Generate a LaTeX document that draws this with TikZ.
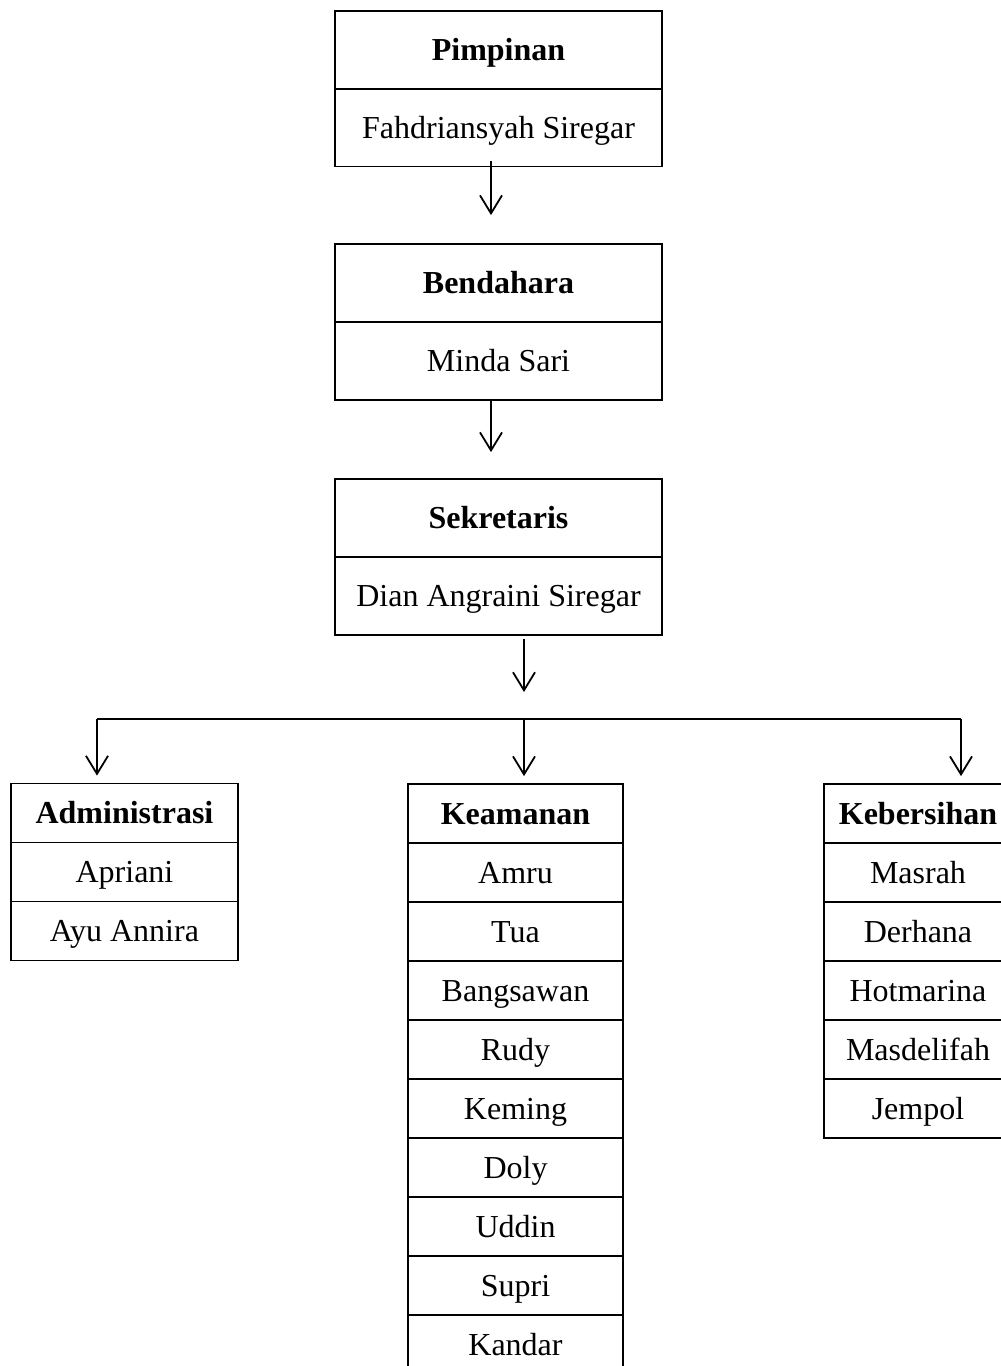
\documentclass[tikz,border=0pt]{standalone}
\usepackage{fontspec}
\setmainfont{Liberation Serif}
\usetikzlibrary{arrows.meta}
\begin{document}
\begin{tikzpicture}[x=1pt,y=-1pt,
  cell/.style={draw, line width=1.8pt, inner sep=0pt, align=center,
    text height=22pt, text depth=1pt,
    font=\fontsize{32}{36}\selectfont},
  bigcell/.style={cell, minimum width=327pt, minimum height=78pt},
  headcell/.style={font=\fontsize{32}{36}\selectfont\bfseries},
  admcell/.style={cell, minimum width=227pt, minimum height=59pt},
  keacell/.style={cell, minimum width=215pt, minimum height=59pt},
  kebcell/.style={cell, minimum width=188pt, minimum height=59pt},
  arr/.style={line width=1.8pt, -{Straight Barb[length=18pt,width=22pt]}},
  bus/.style={line width=1.8pt}]
\useasboundingbox (0,0) rectangle (1001,1366);
\clip (0,0) rectangle (1001,1366);
% top chain
\node[bigcell, headcell] (pimh) at (498.5,50) {Pimpinan};
\node[bigcell] (pimn) at (498.5,127.5) {Fahdriansyah Siregar};
\node[bigcell, headcell] (benh) at (498.5,283) {Bendahara};
\node[bigcell] (benn) at (498.5,361) {Minda Sari};
\node[bigcell, headcell] (sekh) at (498.5,518) {Sekretaris};
\node[bigcell] (sekn) at (498.5,596) {Dian Angraini Siregar};
% Administrasi
\node[admcell, headcell] (admh) at (124.5,813) {Administrasi};
\node[admcell] (adm1) at (124.5,872) {Apriani};
\node[admcell] (adm2) at (124.5,931) {Ayu Annira};
% Keamanan
\node[keacell, headcell] (keah) at (515.5,813.5) {Keamanan};
\node[keacell] (kea1) at (515.5,872.5) {Amru};
\node[keacell] (kea2) at (515.5,931.5) {Tua};
\node[keacell] (kea3) at (515.5,990.5) {Bangsawan};
\node[keacell] (kea4) at (515.5,1049.5) {Rudy};
\node[keacell] (kea5) at (515.5,1108.5) {Keming};
\node[keacell] (kea6) at (515.5,1167.5) {Doly};
\node[keacell] (kea7) at (515.5,1226.5) {Uddin};
\node[keacell] (kea8) at (515.5,1285.5) {Supri};
\node[keacell] (kea9) at (515.5,1344.5) {Kandar};
% Kebersihan
\node[kebcell, headcell] (kebh) at (918,813.5) {Kebersihan};
\node[kebcell] (keb1) at (918,872.5) {Masrah};
\node[kebcell] (keb2) at (918,931.5) {Derhana};
\node[kebcell] (keb3) at (918,990.5) {Hotmarina};
\node[kebcell] (keb4) at (918,1049.5) {Masdelifah};
\node[kebcell] (keb5) at (918,1108.5) {Jempol};
% arrows in chain
\draw[arr, shorten <=-6pt, shorten >=28pt] ([xshift=-7.5pt]pimn.south) -- ([xshift=-7.5pt]benh.north);
\draw[arr, shorten <=-2pt, shorten >=26pt] ([xshift=-7.5pt]benn.south) -- ([xshift=-7.5pt]sekh.north);
% branch
\coordinate (busL) at (97,719);
\coordinate (busM) at (524,719);
\coordinate (busR) at (961,719);
\draw[arr, shorten <=3pt, shorten >=27pt] ([xshift=25.5pt]sekn.south) -- (busM);
\draw[bus] (busL) -- (busR);
\draw[arr, shorten >=7pt] (busL) -- (busL |- admh.north);
\draw[arr, shorten >=7pt] (busM) -- (busM |- keah.north);
\draw[arr, shorten >=7pt] (busR) -- (busR |- kebh.north);
\end{tikzpicture}
\end{document}
